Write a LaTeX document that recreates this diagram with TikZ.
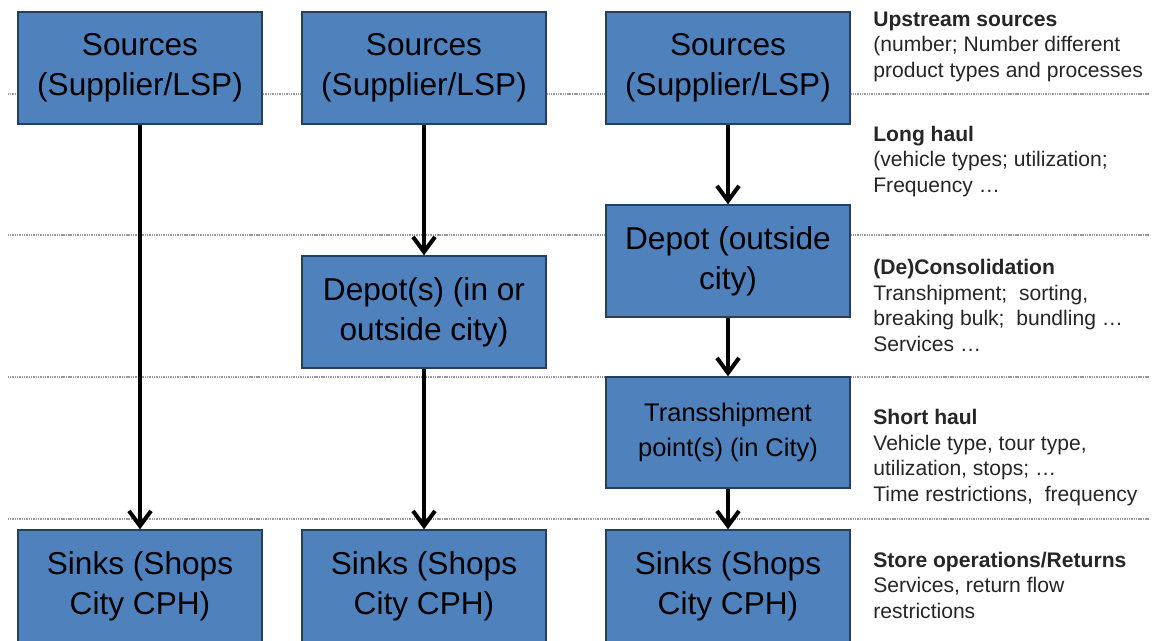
\documentclass[tikz,border=0pt]{standalone}
\usepackage{fontspec}
\setmainfont{Liberation Sans}
\usetikzlibrary{arrows.meta}

\definecolor{boxblue}{HTML}{4F81BD}
\definecolor{boxline}{HTML}{243F60}

\tikzset{
  stage/.style={draw=boxline, fill=boxblue, line width=0.8pt, minimum width=4.88cm,
    minimum height=2.24cm, inner sep=0pt, align=center,
    font=\fontsize{18}{22.7}\selectfont},
  flow/.style={-{Straight Barb[length=3mm,width=4.4mm]}, line width=2.3pt},
  level/.style={gray!80, line width=0.7pt, dash pattern=on 0.6pt off 0.4pt},
  note/.style={anchor=base west, align=left, inner sep=0pt,
    font=\fontsize{12}{14.5}\selectfont, text=black!85},
}

\begin{document}
\begin{tikzpicture}[x=0.02cm, y=-0.02cm]
\clip (0,0) rectangle (1156,640);
\fill[white] (0,0) rectangle (1156,640);

\foreach \y in {94,235,377,519}
  \draw[level] (8,\y) -- (1150,\y);

\node[stage] (src1) at (140,68) {Sources\\(Supplier/LSP)};
\node[stage] (src2) at (424,68) {Sources\\(Supplier/LSP)};
\node[stage] (src3) at (728,68) {Sources\\(Supplier/LSP)};

\node[stage] (dep2) at (424,312) {Depot(s) (in or\\outside city)};
\node[stage] (dep3) at (728,261) {Depot (outside\\city)};
\node[stage, minimum height=2.22cm, font=\fontsize{14.5}{20}\selectfont] (tsp) at (728,432.5) {Transshipment\\point(s) (in City)};

\node[stage] (snk1) at (140,586) {Sinks (Shops\\City CPH)};
\node[stage] (snk2) at (424,586) {Sinks (Shops\\City CPH)};
\node[stage] (snk3) at (728,586) {Sinks (Shops\\City CPH)};

\draw[flow] (src1) -- (snk1);
\draw[flow] (src2) -- (dep2);
\draw[flow] (dep2) -- (snk2);
\draw[flow] (src3) -- (dep3);
\draw[flow] (dep3) -- (tsp);
\draw[flow] (tsp) -- (snk3);

\node[note] (upstream) at (873,77) {\textbf{Upstream sources}\\(number; Number different\\product types and processes};
\node[note] (longhaul) at (873,192) {\textbf{Long haul}\\(vehicle types; utilization;\\Frequency \dots};
\node[note] (consol) at (873,351) {\textbf{(De)Consolidation}\\Transhipment;\ \ sorting,\\breaking bulk;\ \ bundling \dots\\Services \dots};
\node[note] (shorthaul) at (873,501) {\textbf{Short haul}\\Vehicle type, tour type,\\utilization, stops; \dots\\Time restrictions,\ \ frequency};
\node[note] (store) at (873,618) {\textbf{Store operations/Returns}\\Services, return flow\\restrictions};
\end{tikzpicture}
\end{document}
